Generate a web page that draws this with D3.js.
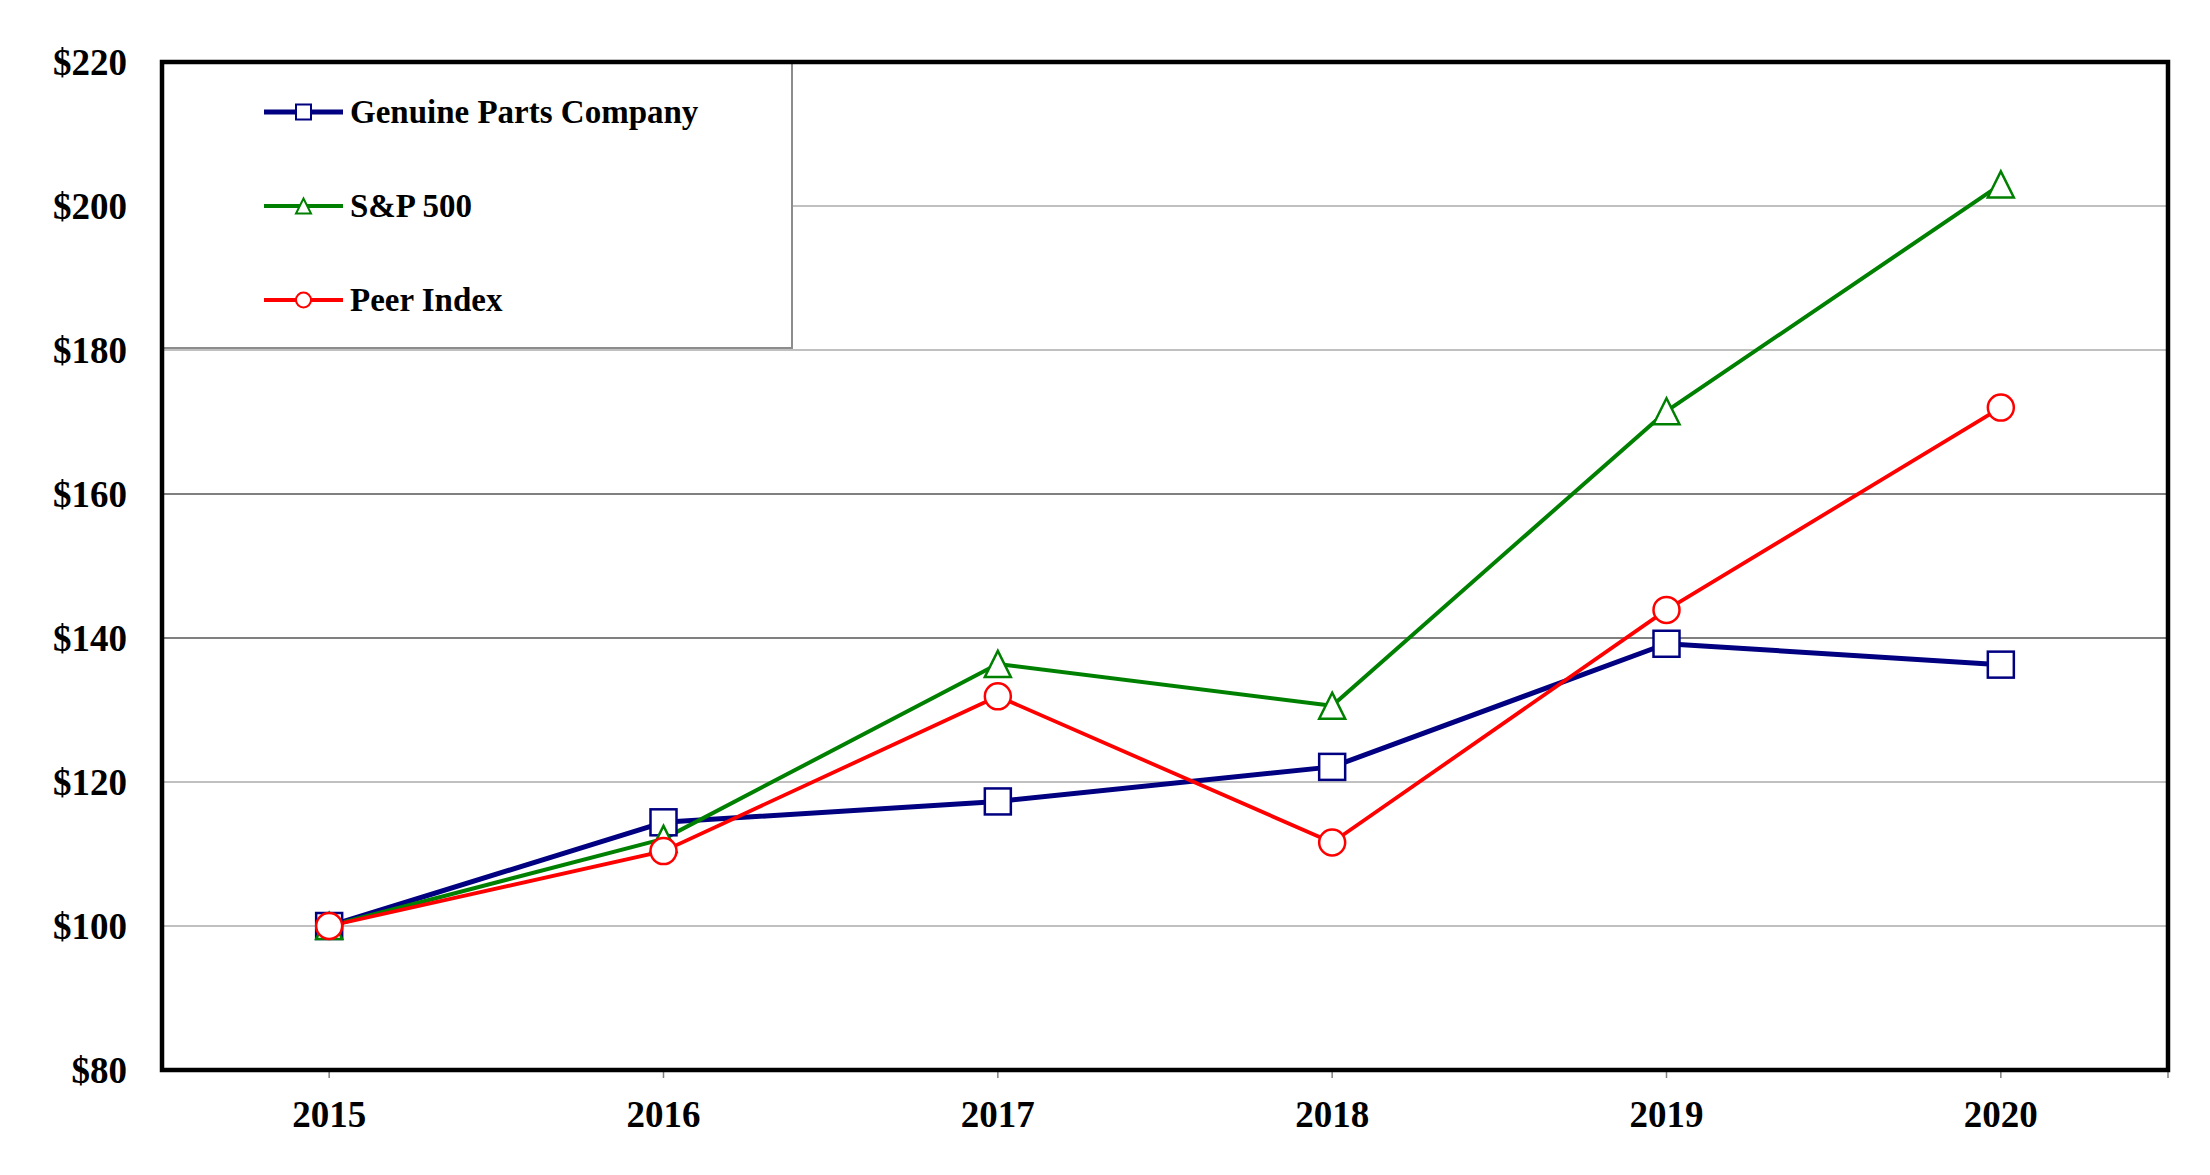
<!DOCTYPE html>
<html>
<head>
<meta charset="utf-8">
<script src="https://cdn.jsdelivr.net/npm/d3@7/dist/d3.min.js"></script>
<style>
  html, body { margin: 0; padding: 0; background: #fff; }
  svg { display: block; }
  text { font-family: "Liberation Serif", "Times New Roman", serif; font-weight: bold; fill: #000; }
</style>
</head>
<body>
<svg id="chart" width="2210" height="1175"></svg>
<script>
const years = ["2015", "2016", "2017", "2018", "2019", "2020"];
const gpc   = [100, 114.4, 117.3, 122.1, 139.2, 136.3];
const sp500 = [100, 112.1, 136.4, 130.6, 171.5, 203.0];
const peer  = [100, 110.4, 131.9, 111.6, 143.9, 172.0];
const yTicks = [80, 100, 120, 140, 160, 180, 200, 220];
const darkGrid = [140, 160];

const series = [
  { name: "Genuine Parts Company", values: gpc,   color: "#000080", marker: "square",   width: 5 },
  { name: "S&P 500",               values: sp500, color: "#008000", marker: "triangle", width: 4 },
  { name: "Peer Index",            values: peer,  color: "#ff0000", marker: "circle",   width: 3.8 }
];

const mLeft = 162, mRight = 2168, mTop = 62, mBottom = 1070;
const svg = d3.select("#chart");

const x = d3.scaleBand().domain(years).range([mLeft, mRight]).padding(0);
const cx = d => x(d) + x.bandwidth() / 2;
const y = d3.scaleLinear().domain([80, 220]).range([mBottom, mTop]);

// gridlines
svg.append("g").selectAll("line").data(yTicks.filter(t => t > 80 && t < 220)).join("line")
  .attr("x1", mLeft).attr("x2", mRight)
  .attr("y1", d => y(d)).attr("y2", d => y(d))
  .attr("stroke", d => darkGrid.includes(d) ? "#7f7f7f" : "#c0c0c0")
  .attr("stroke-width", 2);

// x ticks
svg.append("g").selectAll("line").data(years).join("line")
  .attr("x1", d => cx(d)).attr("x2", d => cx(d))
  .attr("y1", mBottom).attr("y2", mBottom + 8)
  .attr("stroke", "#808080").attr("stroke-width", 1.5);
svg.append("line").attr("x1", mRight).attr("x2", mRight).attr("y1", mBottom).attr("y2", mBottom + 8)
  .attr("stroke", "#808080").attr("stroke-width", 1.5);

// y labels
svg.append("g").selectAll("text").data(yTicks).join("text")
  .attr("x", 127).attr("y", d => y(d))
  .attr("text-anchor", "end").attr("dominant-baseline", "central")
  .attr("font-size", 37)
  .text(d => "$" + d);

// x labels
svg.append("g").selectAll("text").data(years).join("text")
  .attr("x", d => cx(d)).attr("y", 1127)
  .attr("text-anchor", "middle")
  .attr("font-size", 37)
  .text(d => d);

// legend box
const legX = mLeft, legY = mTop, legW = 630, legH = 286;
svg.append("rect").attr("x", legX).attr("y", legY).attr("width", legW).attr("height", legH)
  .attr("fill", "#fff").attr("stroke", "#8c8c8c").attr("stroke-width", 2);

function drawMarker(g, type, px, py, size, color, sw) {
  const h = size / 2;
  if (type === "square") {
    g.append("rect").attr("x", px - h).attr("y", py - h).attr("width", size).attr("height", size)
      .attr("fill", "#fff").attr("stroke", color).attr("stroke-width", sw);
  } else if (type === "circle") {
    g.append("circle").attr("cx", px).attr("cy", py).attr("r", h)
      .attr("fill", "#fff").attr("stroke", color).attr("stroke-width", sw);
  } else {
    g.append("path").attr("d", `M${px},${py - h}L${px + h},${py + h}L${px - h},${py + h}Z`)
      .attr("fill", "#fff").attr("stroke", color).attr("stroke-width", sw);
  }
}

// lines + markers
const line = d3.line().x((d, i) => cx(years[i])).y(d => y(d));
series.forEach(s => {
  svg.append("path").datum(s.values).attr("d", line)
    .attr("fill", "none").attr("stroke", s.color).attr("stroke-width", s.width)
    .attr("stroke-linejoin", "round");
});
series.forEach(s => {
  const g = svg.append("g");
  s.values.forEach((v, i) => drawMarker(g, s.marker, cx(years[i]), y(v), 26, s.color, 2.5));
});

// legend entries
const legRows = [112, 206, 300];
series.forEach((s, i) => {
  const g = svg.append("g");
  const ly = legRows[i];
  g.append("line").attr("x1", 264).attr("x2", 343).attr("y1", ly).attr("y2", ly)
    .attr("stroke", s.color).attr("stroke-width", s.width);
  drawMarker(g, s.marker, 303.5, ly, 15, s.color, 2);
  g.append("text").attr("x", 350).attr("y", ly).attr("dominant-baseline", "central")
    .attr("font-size", 33).text(s.name);
});

// frame
svg.append("rect").attr("x", mLeft).attr("y", mTop).attr("width", mRight - mLeft).attr("height", mBottom - mTop)
  .attr("fill", "none").attr("stroke", "#000").attr("stroke-width", 4.5);
</script>
</body>
</html>
